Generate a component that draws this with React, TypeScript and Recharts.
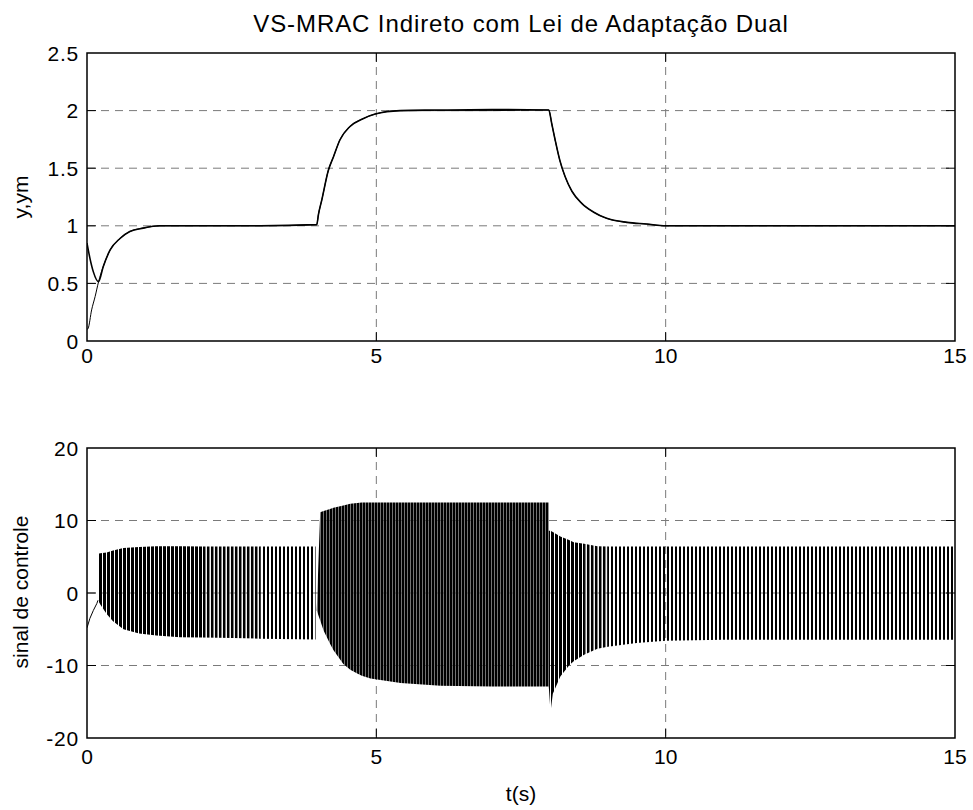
import React from 'react';
import { ComposedChart, Line, Area, XAxis, YAxis, CartesianGrid, ReferenceArea } from 'recharts';

// ---------- data ----------
const xTicks = [0, 5, 10, 15];
const yTicksTop = [0, 0.5, 1, 1.5, 2, 2.5];
const yTicksBottom = [-20, -10, 0, 10, 20];

// reference model output ym
const ymT = [0, 0.02, 0.08, 0.14, 0.2, 0.28, 0.4, 0.57, 0.74, 0.97, 1.26, 2, 3, 3.97, 4.0, 4.06, 4.17, 4.26, 4.37, 4.54, 4.77, 4.98, 5.41, 6, 7, 7.98, 8.03, 8.09, 8.17, 8.26, 8.38, 8.55, 8.75, 8.98, 9.33, 9.67, 10, 12, 15];
const ymV = [0.1, 0.11, 0.27, 0.385, 0.515, 0.645, 0.79, 0.89, 0.95, 0.98, 1.0, 1.0, 1.0, 1.01, 1.1, 1.23, 1.48, 1.6, 1.745, 1.86, 1.93, 1.97, 2.0, 2.0, 2.0, 2.005, 1.89, 1.745, 1.57, 1.43, 1.3, 1.195, 1.12, 1.065, 1.03, 1.015, 1.0, 1.0, 1.0];
// plant output y
const yT = [0, 0.05, 0.11, 0.2, 0.28, 0.4, 0.57, 0.74, 0.97, 1.26, 2, 3, 3.97, 4.0, 4.06, 4.17, 4.26, 4.37, 4.54, 4.77, 4.98, 5.41, 6, 7, 7.98, 8.03, 8.09, 8.17, 8.26, 8.38, 8.55, 8.75, 8.98, 9.33, 9.67, 10, 12, 15];
const yV = [0.85, 0.72, 0.6, 0.515, 0.645, 0.79, 0.89, 0.95, 0.98, 1.0, 1.0, 1.0, 1.01, 1.1, 1.23, 1.48, 1.6, 1.745, 1.86, 1.93, 1.97, 2.0, 2.005, 2.01, 2.005, 1.89, 1.745, 1.57, 1.43, 1.3, 1.195, 1.12, 1.065, 1.03, 1.015, 1.0, 1.0, 1.0];

// control signal: initial (before switching)
const uInitT = [0, 0.05, 0.11, 0.17, 0.19];
const uInitV = [-4.8, -3.5, -2.4, -1.45, -1.0];
// switching envelopes (upper / lower), per segment
const segA1T = [0.19, 0.23, 0.34, 0.45, 0.63, 0.9, 1.2, 1.61, 2.0];
const segA1Hi = [5.4, 5.5, 5.6, 5.86, 6.2, 6.35, 6.45, 6.45, 6.4];
const segA1Lo = [-1.0, -1.6, -2.9, -3.9, -5.0, -5.6, -5.85, -6.1, -6.15];
const segA2T = [2.0, 2.53, 3.0];
const segA2Hi = [6.4, 6.4, 6.4];
const segA2Lo = [-6.15, -6.2, -6.3];
const segA3T = [3.0, 3.95];
const segA3Hi = [6.4, 6.4];
const segA3Lo = [-6.3, -6.4];
const segBT = [3.97, 4.03, 4.09, 4.2, 4.26, 4.43, 4.55, 4.67, 4.75, 4.9, 5.42, 6.11, 7.0, 7.98];
const segBHi = [-2.4, 11.15, 11.3, 11.6, 11.75, 12.07, 12.3, 12.4, 12.5, 12.5, 12.5, 12.5, 12.5, 12.5];
const segBLo = [-2.4, -3.8, -5.2, -7.0, -7.9, -9.8, -10.6, -11.1, -11.4, -11.8, -12.4, -12.8, -12.9, -12.9];
const segC1T = [7.98, 8.01, 8.05, 8.18, 8.33, 8.41, 8.59];
const segC1Hi = [8.6, 8.6, 8.4, 7.8, 7.3, 7.0, 6.8];
const segC1Lo = [-12.9, -16.4, -13.9, -11.5, -10.0, -9.4, -8.5];
const segC2T = [8.59, 8.82, 9.0];
const segC2Hi = [6.8, 6.45, 6.4];
const segC2Lo = [-8.5, -7.7, -7.4];
const segC3T = [9.0, 9.5, 10, 11, 15];
const segC3Hi = [6.4, 6.4, 6.4, 6.4, 6.4];
const segC3Lo = [-7.4, -6.9, -6.6, -6.45, -6.45];

const titleText = 'VS-MRAC Indireto com Lei de Adaptação Dual';
const yLabelTop = 'y,ym';
const yLabelBottom = 'sinal de controle';
const xLabel = 't(s)';

// ---------- helpers ----------
const pts = (t: number[], v: number[]) => t.map((x, i) => ({ t: x, v: v[i] }));
const band = (t: number[], lo: number[], hi: number[]) => t.map((x, i) => ({ t: x, r: [lo[i], hi[i]] }));

const FONT = "'Liberation Sans', Arial, Helvetica, sans-serif";
const FS = 21;
const PLOT_W = 868;
const TICK_LEN = 9;

const makeYTick = (pw: number, margin: number, extremes: number[]) => (props: any) => {
  const { x, y, payload } = props;
  const ax = x + margin;
  const inner = !extremes.includes(payload.value);
  return (
    <g>
      {inner && <line x1={ax} x2={ax + TICK_LEN} y1={y} y2={y} stroke="#000" strokeWidth={1} />}
      {inner && <line x1={ax + pw} x2={ax + pw - TICK_LEN} y1={y} y2={y} stroke="#000" strokeWidth={1} />}
      <text x={x} y={y} dy="0.36em" textAnchor="end" fontSize={FS} fontFamily={FONT} fill="#000" letterSpacing={0.8}>
        {String(payload.value)}
      </text>
    </g>
  );
};

const makeXTick = (ph: number, margin: number) => (props: any) => {
  const { x, y, payload } = props;
  const ay = y - margin;
  const inner = payload.value !== 0 && payload.value !== 15;
  return (
    <g>
      {inner && <line x1={x} x2={x} y1={ay} y2={ay - TICK_LEN} stroke="#000" strokeWidth={1} />}
      {inner && <line x1={x} x2={x} y1={ay - ph} y2={ay - ph + TICK_LEN} stroke="#000" strokeWidth={1} />}
      <text x={x} y={y} dy="0.72em" textAnchor="middle" fontSize={FS} fontFamily={FONT} fill="#000">
        {String(payload.value)}
      </text>
    </g>
  );
};

const GRID = { stroke: '#7a7a7a', strokeDasharray: '8 6', strokeWidth: 1 };

const bandArea = (t: number[], lo: number[], hi: number[], fill: string) => (
  <Area data={band(t, lo, hi)} dataKey="r" type="linear" stroke="none" fill={fill} fillOpacity={1} isAnimationActive={false} />
);

export default function App() {
  return (
    <div style={{ position: 'absolute', left: 0, top: 0, width: 973, height: 810, background: '#fff' }}>
      {/* top subplot */}
      <div style={{ position: 'absolute', left: 0, top: 0 }}>
        <ComposedChart width={973} height={395} margin={{ top: 53, right: 18, bottom: 24, left: 27 }}>
          <CartesianGrid {...GRID} horizontalValues={[0.5, 1, 1.5, 2]} verticalValues={[5, 10]} />
          <XAxis
            type="number"
            dataKey="t"
            domain={[0, 15]}
            ticks={xTicks}
            height={30}
            axisLine={false}
            tickLine={false}
            tickSize={0}
            tickMargin={7}
            tick={makeXTick(288, 7)}
            allowDataOverflow
          />
          <YAxis
            type="number"
            domain={[0, 2.5]}
            ticks={yTicksTop}
            width={60}
            axisLine={false}
            tickLine={false}
            tickSize={0}
            tickMargin={8}
            tick={makeYTick(PLOT_W, 8, [0, 2.5])}
            allowDataOverflow
          />
          <Line data={pts(ymT, ymV)} dataKey="v" type="monotone" stroke="#000" strokeWidth={1} dot={false} isAnimationActive={false} />
          <Line data={pts(yT, yV)} dataKey="v" type="monotone" stroke="#000" strokeWidth={1.6} dot={false} isAnimationActive={false} />
          <ReferenceArea x1={0} x2={15} y1={0} y2={2.5} fill="none" stroke="#000" strokeWidth={1.5} ifOverflow="visible" />
        </ComposedChart>
      </div>

      {/* bottom subplot */}
      <div style={{ position: 'absolute', left: 0, top: 395 }}>
        <ComposedChart width={973} height={415} margin={{ top: 53, right: 18, bottom: 42, left: 27 }}>
          <defs>
            <pattern id="stripeDense" patternUnits="userSpaceOnUse" x={87} y={0} width={4} height={20}>
              <rect x={0} y={0} width={3} height={20} fill="#000" />
            </pattern>
            <pattern id="stripeMedium" patternUnits="userSpaceOnUse" x={87} y={0} width={4} height={20}>
              <rect x={0} y={0} width={2.5} height={20} fill="#000" />
              <rect x={2.5} y={0} width={0.6} height={20} fill="#888" />
            </pattern>
            <pattern id="stripeClean" patternUnits="userSpaceOnUse" x={87} y={0} width={4} height={20}>
              <rect x={0} y={0} width={2} height={20} fill="#000" />
            </pattern>
            <pattern id="stripeSolid" patternUnits="userSpaceOnUse" x={87} y={0} width={3} height={20}>
              <rect x={0} y={0} width={2.5} height={20} fill="#000" />
              <rect x={2.5} y={0} width={0.5} height={20} fill="#666" />
            </pattern>
          </defs>
          <CartesianGrid {...GRID} horizontalValues={[-10, 0, 10]} verticalValues={[5, 10]} />
          <XAxis
            type="number"
            dataKey="t"
            domain={[0, 15]}
            ticks={xTicks}
            height={30}
            axisLine={false}
            tickLine={false}
            tickSize={0}
            tickMargin={11}
            tick={makeXTick(290, 11)}
            allowDataOverflow
          />
          <YAxis
            type="number"
            domain={[-20, 20]}
            ticks={yTicksBottom}
            width={60}
            axisLine={false}
            tickLine={false}
            tickSize={0}
            tickMargin={8}
            tick={makeYTick(PLOT_W, 8, [-20, 20])}
            allowDataOverflow
          />
          {bandArea(segA1T, segA1Lo, segA1Hi, 'url(#stripeDense)')}
          {bandArea(segA2T, segA2Lo, segA2Hi, 'url(#stripeMedium)')}
          {bandArea(segA3T, segA3Lo, segA3Hi, 'url(#stripeClean)')}
          {bandArea(segBT, segBLo, segBHi, 'url(#stripeSolid)')}
          {bandArea(segC1T, segC1Lo, segC1Hi, 'url(#stripeDense)')}
          {bandArea(segC2T, segC2Lo, segC2Hi, 'url(#stripeMedium)')}
          {bandArea(segC3T, segC3Lo, segC3Hi, 'url(#stripeClean)')}
          <Line data={pts(uInitT, uInitV)} dataKey="v" type="linear" stroke="#000" strokeWidth={1} dot={false} isAnimationActive={false} />
          <ReferenceArea x1={0} x2={15} y1={-20} y2={20} fill="none" stroke="#000" strokeWidth={1.5} ifOverflow="visible" />
        </ComposedChart>
      </div>

      {/* title and axis labels */}
      <svg width={973} height={810} style={{ position: 'absolute', left: 0, top: 0, pointerEvents: 'none' }}>
        <text x={521} y={32} textAnchor="middle" fontSize={24} letterSpacing={0.9} fontFamily={FONT} fill="#000">{titleText}</text>
        <text x={28} y={197} transform="rotate(-90 28 197)" textAnchor="middle" fontSize={FS} fontFamily={FONT} fill="#000">{yLabelTop}</text>
        <text x={28} y={592} transform="rotate(-90 28 592)" textAnchor="middle" fontSize={FS} fontFamily={FONT} fill="#000">{yLabelBottom}</text>
        <text x={521} y={801} textAnchor="middle" fontSize={FS} fontFamily={FONT} fill="#000">{xLabel}</text>
      </svg>
    </div>
  );
}
